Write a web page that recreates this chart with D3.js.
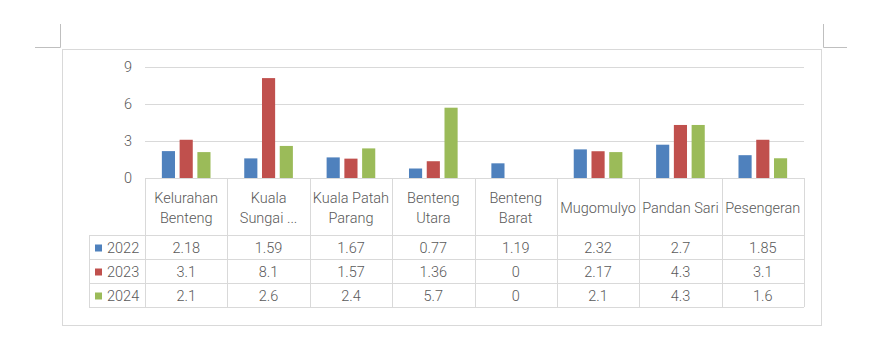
<!DOCTYPE html>
<html><head><meta charset="utf-8">
<script src="https://cdn.jsdelivr.net/npm/d3@7"></script>
<style>html,body{margin:0;padding:0;background:#fff;}svg{display:block;font-family:Roboto,"Noto Sans",sans-serif;}text{font-weight:300;}</style>
</head><body><svg id="c" width="889" height="340"></svg>
<script>
const categories = [["Kelurahan","Benteng"],["Kuala","Sungai ..."],["Kuala Patah","Parang"],["Benteng","Utara"],["Benteng","Barat"],["Mugomulyo"],["Pandan Sari"],["Pesengeran"]];
const seriesNames = ["2022","2023","2024"];
const s2022 = [2.18,1.59,1.67,0.77,1.19,2.32,2.7,1.85];
const s2023 = [3.1,8.1,1.57,1.36,0,2.17,4.3,3.1];
const s2024 = [2.1,2.6,2.4,5.7,0,2.1,4.3,1.6];
const yTicks = [0,3,6,9];
const colors = ["#4F81BD","#C0504D","#9BBB59"];
const series = [s2022,s2023,s2024];

const svg = d3.select("#c");
const grid = "#d9d9d9", txt = "#595959";
const fs = "14.5px";

// crop marks & frame
svg.append("path").attr("d","M60.5,24V47.5H35").attr("fill","none").attr("stroke","#bfbfbf");
svg.append("path").attr("d","M823.5,24V47.5H847").attr("fill","none").attr("stroke","#bfbfbf");
svg.append("rect").attr("x",62.5).attr("y",49.5).attr("width",759).attr("height",276).attr("fill","#fff").attr("stroke",grid);

const left = 145, right = 804, y0 = 178, yTop = 67;
const x = d3.scaleBand().domain(d3.range(categories.length)).range([left,right]);
const xi = d3.scaleBand().domain(d3.range(series.length)).range([0,x.bandwidth()]).paddingInner(0.26).paddingOuter(0.95);
const y = d3.scaleLinear().domain([0,9]).range([y0,yTop]);

// gridlines
svg.append("g").selectAll("line").data(yTicks.filter(t=>t>0)).join("line")
  .attr("x1",left).attr("x2",right).attr("y1",d=>Math.round(y(d))+0.5).attr("y2",d=>Math.round(y(d))+0.5)
  .attr("stroke",grid);
const yAxis = d3.axisLeft(y).tickValues(yTicks).tickSize(0).tickPadding(0);
const ga = svg.append("g").attr("transform",`translate(${132},0)`).call(yAxis);
ga.select(".domain").remove();
ga.selectAll("text").attr("fill",txt).style("font-size",fs).style("font-family","Roboto");

// bars
series.forEach((s,si)=>{
  svg.append("g").selectAll("rect").data(s).join("rect")
    .attr("x",(d,i)=>x(i)+xi(si)).attr("width",xi.bandwidth())
    .attr("y",d=>y(d)).attr("height",d=>y0-y(d)).attr("fill",colors[si]);
});

// table
const rowTops = [235,259,283,307];
const tleft = 89;
const tg = svg.append("g").attr("stroke",grid).attr("fill","none");
tg.append("line").attr("x1",left).attr("x2",right).attr("y1",y0+0.5).attr("y2",y0+0.5);
rowTops.forEach(r=>tg.append("line").attr("x1",tleft).attr("x2",right).attr("y1",r+0.5).attr("y2",r+0.5));
d3.range(categories.length+1).forEach(i=>{
  const xx = Math.round(i<categories.length? x(i): right)+0.5;
  tg.append("line").attr("x1",xx).attr("x2",xx).attr("y1",y0).attr("y2",307);
});
tg.append("line").attr("x1",tleft+0.5).attr("x2",tleft+0.5).attr("y1",235).attr("y2",307);

// header labels
const hg = svg.append("g").attr("fill",txt).style("font-size",fs).attr("text-anchor","middle");
categories.forEach((c,i)=>{
  const cx = x(i)+x.bandwidth()/2;
  const mid = (y0+235)/2 + 1;
  c.forEach((line,li)=>{
    hg.append("text").attr("x",cx).attr("y",mid + (li-(c.length-1)/2)*20).attr("dy","0.35em").text(line);
  });
});
// rows
series.forEach((s,si)=>{
  const cy = (rowTops[si]+rowTops[si+1])/2 + 1;
  svg.append("rect").attr("x",95).attr("y",cy-3.5).attr("width",7).attr("height",7).attr("fill",colors[si]);
  svg.append("text").attr("x",107).attr("y",cy).attr("dy","0.35em").attr("fill",txt).style("font-size",fs).text(seriesNames[si]);
  svg.append("g").selectAll("text").data(s).join("text")
    .attr("x",(d,i)=>x(i)+x.bandwidth()/2).attr("y",cy).attr("dy","0.35em")
    .attr("text-anchor","middle").attr("fill",txt).style("font-size",fs).text(d=>String(d));
});
</script></body></html>
